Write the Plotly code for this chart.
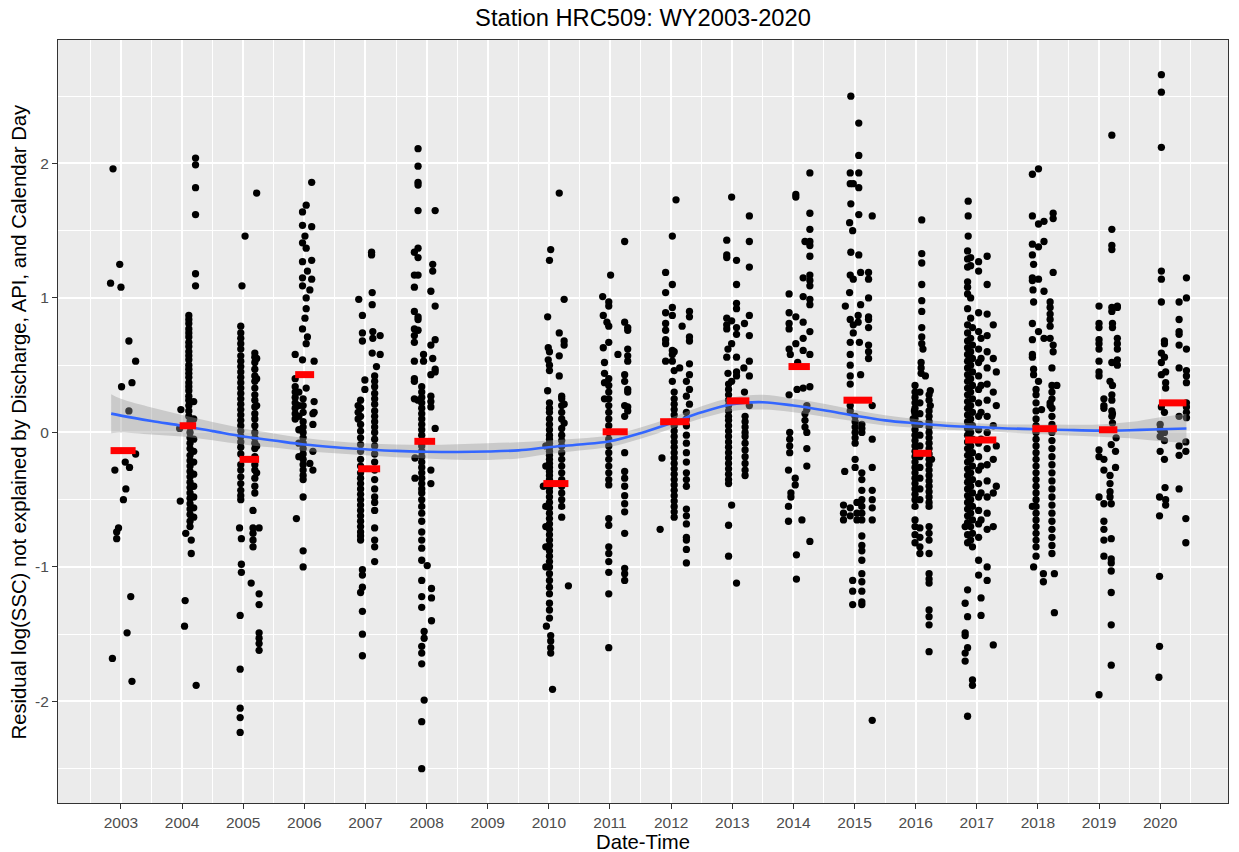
import plotly.graph_objects as go

# ---------------- data (decimal year, residual values) ----------------
wy2003 = [
    (2002.83, [1.11]), (2002.86, [-1.68]), (2002.87, [1.96]), (2002.90, [-0.28]),
    (2002.93, [-0.79, -0.74]), (2002.96, [-0.71]), (2002.98, [1.25]), (2003.00, [1.08]),
    (2003.01, [0.34]), (2003.04, [-0.50]), (2003.07, [-0.22]), (2003.08, [-0.42]),
    (2003.10, [-1.49]), (2003.13, [0.68, 0.16]), (2003.14, [-0.26]), (2003.16, [-1.22]),
    (2003.18, [0.37, -1.85]), (2003.24, [0.53, -0.16]),
]
wy2004 = [
    (2003.96, [0.03]), (2003.97, [-0.51]), (2003.98, [0.17]), (2004.04, [-1.44]),
    (2004.05, [-1.25]), (2004.06, [-0.75]),
    (2004.11, [0.87, 0.84, 0.81, 0.77, 0.74, 0.71, 0.67, 0.64, 0.60, 0.57, 0.54, 0.50, 0.47,
               0.44, 0.41, 0.37, 0.34, 0.31, 0.27, 0.24, 0.20, 0.16, 0.12]),
    (2004.13, [0.08, 0.04, 0.0, -0.04, -0.08, -0.12, -0.17, -0.21, -0.25, -0.29, -0.33, -0.37,
               -0.41, -0.45, -0.49, -0.53, -0.57, -0.61, -0.66, -0.70]),
    (2004.15, [-0.80, -0.90]),
    (2004.19, [0.23, 0.10, -0.05, -0.14, -0.22, -0.31, -0.40, -0.48, -0.56, -0.63]),
    (2004.22, [2.04, 1.99, 1.82, 1.62, 1.18, 1.09]), (2004.23, [-1.88]),
]
wy2005 = [
    (2004.94, [-0.71]),
    (2004.96, [0.79, 0.74, 0.70, 0.66, 0.62, 0.57, 0.53, 0.49, 0.45, 0.41, 0.37, 0.33, 0.29,
               0.25, 0.21, 0.17, 0.13, 0.09, 0.05, 0.01, -0.03, -0.07, -0.11, -0.16, -0.24,
               -0.28, -0.33, -0.38, -0.43, -0.47, -0.50]),
    (2004.97, [-0.79, -0.98, -1.04]), (2004.95, [-1.36, -1.76, -2.05, -2.12, -2.23]),
    (2004.98, [1.09]), (2005.03, [1.46]), (2005.13, [-1.12]),
    (2005.16, [-0.58, -0.71, -0.75, -0.80, -0.85]),
    (2005.19, [0.59, 0.56, 0.52, 0.47, 0.42, 0.38, 0.33, 0.28, 0.24, 0.19, 0.14, 0.10, 0.05,
               0.0, -0.04, -0.08, -0.12, -0.18, -0.24, -0.28, -0.34, -0.40, -0.45]),
    (2005.22, [1.78, 0.55, 0.40, 0.20, -0.10, -0.30]),
    (2005.26, [-0.71, -1.20, -1.28, -1.49, -1.53, -1.57, -1.62]),
]
wy2006 = [
    (2005.85, [0.58, 0.40, 0.34, 0.30, 0.26, 0.22, 0.18, 0.14, 0.10]), (2005.87, [-0.64]),
    (2005.91, [0.30, 0.20, 0.12, 0.02, -0.08, -0.18]),
    (2005.97, [1.64, 1.54, 1.41, 1.27, 1.15, 1.09, 0.77, 0.54]),
    (2005.98, [0.25, 0.20, 0.15, 0.08, 0.04, 0.0, -0.04, -0.08, -0.12, -0.16, -0.20, -0.24,
               -0.28, -0.32, -0.35, -0.48, -0.88, -1.00]),
    (2006.01, [1.46, 0.85]), (2006.03, [1.69, 1.37, 1.00, 0.92, 0.66, 0.33]),
    (2006.05, [1.20, 0.71]), (2006.09, [1.06, -0.23]), (2006.12, [1.86, 1.53, 1.28, 1.14]),
    (2006.14, [0.14, 0.06, -0.14, -0.28]), (2006.16, [0.53, 0.23, 0.15]),
]
wy2007 = [
    (2006.88, [0.20, 0.15, 0.10]), (2006.89, [0.99]),
    (2006.92, [0.24, 0.18, 0.12, 0.06, 0.01, -0.04, -0.09, -0.14, -0.20, -0.25, -0.30, -0.34,
               -0.38, -0.42, -0.46, -0.50, -0.54, -0.58, -0.62, -0.66, -0.70, -0.74, -0.77,
               -0.80, -1.19]),
    (2006.95, [0.87, 0.74, 0.68, -1.02, -1.06, -1.15, -1.33, -1.50, -1.66]),
    (2006.99, [0.39, 0.32]), (2007.10, [1.34, 1.32]), (2007.11, [1.04, 0.95, 0.59]),
    (2007.12, [0.75, 0.70]),
    (2007.15, [0.42, 0.38, 0.34, 0.29, 0.25, 0.21, 0.16, 0.12, 0.08, 0.04, 0.0, -0.05, -0.10,
               -0.16, -0.22, -0.28, -0.35, -0.42, -0.48, -0.52, -0.58, -0.71, -0.80, -0.85,
               -0.96]),
    (2007.18, [0.49]), (2007.24, [0.72, 0.58]),
]
wy2008 = [
    (2007.80, [1.34, 1.17, 1.08, 0.90, 0.77, 0.72, 0.67, 0.53, 0.40, 0.38, 0.25]),
    (2007.81, [-0.19, -0.34]),
    (2007.86, [2.11, 1.98, 1.86, 1.84, 1.65, 1.37, 1.30, 1.17, 0.86, 0.84, 0.76, 0.24]),
    (2007.92, [0.34, 0.30, 0.26, 0.22, 0.18, 0.14, 0.10, 0.06, 0.02, -0.02, -0.06, -0.10,
               -0.14, -0.18, -0.22, -0.26, -0.30, -0.34, -0.38, -0.42, -0.45, -0.50, -0.55,
               -0.60, -0.66, -0.74, -0.80, -0.86, -0.95, -1.10, -1.22, -1.30, -1.59, -1.64,
               -1.72, -2.15, -2.50]),
    (2007.95, [0.58, 0.53]), (2007.96, [-1.48, -1.53, -1.99]), (2008.01, [-0.99]),
    (2008.07, [1.05, 0.65, 0.43, 0.27, 0.23, 0.19, -0.28, -0.38]),
    (2008.08, [-1.16, -1.23, -1.40]), (2008.10, [1.25, 1.20, 0.55]),
    (2008.14, [1.65, 0.94, 0.69, 0.47, 0.45, 0.03]),
]
wy2010 = [
    (2009.91, [-0.40]), (2009.95, [-0.10, -0.25, -0.55, -0.70, -0.85, -1.00]),
    (2009.96, [-1.44]), (2009.98, [0.86, 0.31]), (2009.99, [0.63, 0.54]),
    (2010.01, [1.28, 0.60, 0.50, 0.46, 0.22, 0.18, 0.15, 0.10, 0.06, 0.02, -0.02, -0.05,
               -0.08, -0.11, -0.14, -0.17, -0.20, -0.23, -0.26, -0.29, -0.32, -0.35, -0.38,
               -0.41, -0.44, -0.48, -0.52, -0.56, -0.60, -0.64, -0.68, -0.72, -0.76, -0.80,
               -0.84, -0.88, -0.92, -0.96, -1.00, -1.05, -1.10, -1.15, -1.20, -1.27, -1.32,
               -1.38]),
    (2010.03, [1.36, -1.51, -1.55, -1.60, -1.64]), (2010.06, [-1.91]),
    (2010.17, [1.78, 0.74, 0.57, 0.42]),
    (2010.21, [0.27, 0.25, 0.20, 0.15, 0.10, 0.03, -0.02, -0.06, -0.10, -0.15, -0.20, -0.25,
               -0.30, -0.35, -0.40, -0.45, -0.50, -0.55, -0.63]),
    (2010.25, [0.99, 0.68, 0.65, 0.21, 0.07]), (2010.32, [-1.14]),
]
wy2011 = [
    (2010.88, [1.01]), (2010.89, [0.87, 0.63]), (2010.91, [0.52, 0.44, 0.37, 0.25]),
    (2010.95, [0.82]),
    (2010.98, [0.97, 0.94, 0.79, 0.67, 0.40, 0.35, 0.30, 0.25, 0.20, 0.15, 0.10, 0.05, 0.0,
               -0.05, -0.10, -0.15, -0.20, -0.25, -0.30, -0.35, -0.39, -0.64, -0.69, -0.85,
               -0.90, -0.96, -1.04, -1.20, -1.60]),
    (2011.01, [1.17]), (2011.13, [0.58]),
    (2011.24, [1.42, 0.82, 0.43, 0.38, 0.20, 0.12, -0.15, -0.29, -0.34, -0.40, -0.47, -0.53,
               -0.59, -0.75, -1.01, -1.05, -1.10]),
    (2011.29, [0.78, 0.76, 0.62, 0.57, 0.53, 0.32, 0.30, 0.19, 0.16]),
]
wy2012 = [
    (2011.82, [-0.72]), (2011.85, [-0.19]),
    (2011.91, [1.19, 1.04, 0.89, 0.81, 0.76, 0.69, 0.66, 0.53]),
    (2012.02, [1.46, 1.10, 0.93, 0.87, 0.61, 0.58, 0.53, 0.38]),
    (2012.05, [0.60, 0.46, 0.30, 0.25, 0.21, 0.17, 0.13, 0.09, 0.05, 0.01, -0.03, -0.07,
               -0.11, -0.15, -0.19, -0.23, -0.27, -0.31, -0.35, -0.39, -0.43, -0.47, -0.51,
               -0.55, -0.59, -0.63]),
    (2012.08, [1.73]), (2012.14, [0.48]), (2012.18, [0.79]),
    (2012.25, [0.38, 0.27, 0.15, 0.10, 0.05, -0.02, -0.08, -0.15, -0.22, -0.30, -0.35, -0.40,
               -0.57, -0.62, -0.68, -0.78, -0.80, -0.87, -0.97]),
    (2012.30, [0.90, 0.86, 0.71, 0.68, 0.51, 0.43, 0.32, 0.21]),
]
wy2013 = [
    (2012.91, [1.43, 1.32, 1.30, 0.85, 0.80, 0.77, 0.56]), (2012.93, [0.62, 0.44]),
    (2012.94, [0.36, 0.32, 0.28, 0.24, 0.20, 0.16, 0.12, 0.09, 0.05, 0.01, -0.03, -0.07,
               -0.11, -0.15, -0.19, -0.23, -0.27, -0.31, -0.35, -0.38, -0.69, -0.92]),
    (2012.99, [1.75, 0.83, 0.66, 0.38, -0.54]),
    (2013.07, [1.28, 1.10, 0.96, 0.92, 0.78, 0.73, 0.56, 0.45, 0.42, -1.12]),
    (2013.19, [0.48]), (2013.20, [0.81, 0.30]),
    (2013.21, [0.12, 0.08, 0.04, 0.0, -0.03, -0.08, -0.13, -0.18, -0.23, -0.28, -0.32]),
    (2013.28, [1.61, 1.42, 1.23, 0.87, 0.72, 0.53, 0.42, 0.20]),
]
wy2014 = [
    (2013.92, [-0.28, -0.55, -0.66]), (2013.93, [1.03, 0.89, 0.81, 0.77, 0.62, 0.28]),
    (2013.94, [0.0, -0.05, -0.10, -0.15]), (2013.95, [0.58]), (2013.96, [-0.45, -0.48]),
    (2014.03, [-0.34, -0.39]), (2014.04, [1.77, 1.75, 0.86, 0.66]), (2014.05, [-0.91, -1.09]),
    (2014.06, [0.32]), (2014.07, [0.52]), (2014.14, [-0.65]),
    (2014.16, [1.15, 1.01, 0.82, 0.70, 0.61, 0.33]), (2014.19, [1.42, 0.14, 0.09, 0.04]),
    (2014.22, [0.20, 0.17, 0.0, -0.12, -0.25]),
    (2014.27, [1.93, 1.63, 1.51, 1.42, 1.39, 1.31, 1.17, 1.13, 1.09, 0.99, 0.95, 0.75, 0.58,
               0.34, -0.81]),
]
wy2015 = [
    (2014.82, [-0.54, -0.60, -0.65]), (2014.84, [-0.29]), (2014.85, [0.94]),
    (2014.92, [1.56, 1.04]),
    (2014.93, [1.93, 1.85, 1.17, 0.84, 0.67, 0.58, 0.50, 0.42, 0.36, 0.20, 0.16, -0.56, -0.62]),
    (2014.94, [2.50, 1.70, 1.34]), (2014.97, [1.50, -1.10, -1.18, -1.28]),
    (2014.98, [1.85, 1.14, 0.80, 0.74]),
    (2015.01, [0.12, 0.08, 0.04, 0.0, -0.04, -0.08, -0.20, -0.26]),
    (2015.04, [-0.52, -0.60, -0.65]), (2015.06, [0.87, 0.82]),
    (2015.07, [2.30, 2.06, 1.93, 1.82, 1.62, 1.32]), (2015.08, [0.67]),
    (2015.10, [1.19, 0.95, 0.43]),
    (2015.12, [0.06, 0.03, 0.0, -0.30, -0.35, -0.43, -0.50, -0.55, -0.60, -0.65, -0.77, -0.84,
               -0.88, -0.95, -1.05, -1.11, -1.18, -1.26, -1.28]),
    (2015.23, [1.19, 1.14, 1.00, 0.86, 0.84, 0.78, 0.65, 0.60, 0.55]),
    (2015.29, [1.61, 0.20, -0.05, -0.26, -0.43, -0.50, -0.56, -0.65, -2.14]),
]
wy2016 = [
    (2015.96, [0.10]), (2015.98, [0.16]),
    (2015.99, [0.35, 0.30, 0.26, 0.22, 0.18, 0.14, 0.10, 0.06, 0.02, -0.02, -0.06, -0.10,
               -0.14, -0.18, -0.22, -0.26, -0.30, -0.34, -0.38, -0.42, -0.46, -0.50, -0.55,
               -0.65, -0.70, -0.76, -0.82]),
    (2016.07, [0.30, 0.22, 0.14, 0.06, -0.02, -0.10, -0.18, -0.26, -0.34, -0.42, -0.50, -0.71,
               -0.78, -0.85, -0.90]),
    (2016.09, [0.52, 0.48, 0.44]),
    (2016.10, [1.58, 1.33, 1.26, 1.10, 0.98, 0.90, 0.78, 0.71, 0.66]),
    (2016.12, [0.62]), (2016.16, [0.42]),
    (2016.22, [0.28, 0.24, 0.16, 0.12, 0.08, 0.04, 0.0, -0.04, -0.08, -0.12, -0.16, -0.20,
               -0.24, -0.28, -0.32, -0.36, -0.40, -0.44, -0.48, -0.52, -0.55, -0.70, -0.75,
               -0.80, -0.90, -1.05, -1.09, -1.12, -1.32, -1.37, -1.43, -1.63]),
    (2016.24, [0.31, 0.20]), (2016.26, [-0.20]),
]
wy2017 = [
    (2016.81, [-0.70, -1.27, -1.49, -1.51, -1.64, -1.70]),
    (2016.85, [1.35, 1.29, 1.23, 1.12, 1.08, 1.03, 0.92, 0.80, 0.74, 0.68, 0.63, 0.58, 0.53,
               0.48, 0.43, 0.38, 0.33, 0.28, 0.23, 0.18, 0.13, 0.08, 0.03, -0.02, -0.07, -0.12,
               -0.17, -0.22, -0.27, -0.32, -0.37, -0.42, -0.47, -0.52, -0.57, -0.62, -0.67,
               -0.76, -0.82, -1.17, -1.37, -1.60, -2.11]),
    (2016.86, [1.72, 1.61, 1.46]),
    (2016.90, [1.30, 1.24, 1.00, 0.85, 0.70, 0.60, 0.50, 0.40, 0.30, 0.20, 0.10, 0.0, -0.10,
               -0.20, -0.30, -0.40, -0.50, -0.60, -0.70, -0.80]),
    (2016.93, [0.78, 0.65, 0.55, 0.45, 0.35, 0.25, 0.15, 0.05, -0.05, -0.15, -0.25, -0.35,
               -0.45, -0.55, -0.65, -0.75, -0.85, -1.84, -1.88]),
    (2017.03, [1.27, 1.20, 0.89, 0.75, 0.62, 0.52, 0.42, 0.32, 0.22, 0.12, 0.02, -0.08, -0.18,
               -0.28, -0.38, -0.48, -0.58, -0.68, -0.78, -0.95, -1.06]),
    (2017.07, [0.70, 0.55, 0.35, 0.15, -0.05, -0.25, -0.45, -0.65, -1.23, -1.36]),
    (2017.17, [1.31, 1.10, 0.88, 0.72, 0.60, 0.48, 0.36, 0.24, 0.12, 0.0, -0.12, -0.24, -0.36,
               -0.48, -0.60, -0.72, -1.00, -1.10]),
    (2017.27, [0.80, 0.55, 0.30, 0.05, -0.20, -0.45, -0.70, -1.58]),
    (2017.32, [0.45, 0.20, -0.10, -0.40]),
]
wy2018 = [
    (2017.91, [1.92, 1.61, 1.40, 1.32, 1.15, 1.13, 0.81, 0.69, 0.58, 0.56, -0.55]),
    (2017.92, [1.06]), (2017.93, [1.25, 0.97, 0.47, 0.43, -1.00]),
    (2017.97, [0.32, 0.28, 0.22, 0.16, 0.10, 0.05, 0.0, -0.05, -0.10, -0.15, -0.20, -0.25,
               -0.30, -0.35, -0.40, -0.45, -0.50, -0.55, -0.60, -0.65, -0.70, -0.75, -0.80,
               -0.85, -0.92]),
    (2018.01, [1.96, 1.55, 1.38, 1.14, 0.75, 0.38]), (2018.06, [0.17]),
    (2018.09, [-1.05, -1.11]), (2018.10, [1.57, 1.42, 1.05, 0.70]),
    (2018.20, [0.97, 0.93, 0.88, 0.84, 0.79, 0.70, 0.22, 0.20]),
    (2018.23, [0.48, 0.35, 0.30, 0.25, 0.18, 0.12, 0.06, 0.0, -0.06, -0.12, -0.18, -0.24,
               -0.30, -0.36, -0.42, -0.48, -0.54, -0.60, -0.66, -0.72, -0.78, -0.84, -0.90]),
    (2018.25, [1.63, 1.59, 1.19, 0.65, 0.60]), (2018.27, [-1.05, -1.34]), (2018.31, [0.35]),
]
wy2019 = [
    (2019.00, [0.94, 0.81, 0.78, 0.69, 0.66, 0.62, 0.53, 0.45, 0.42, -0.13, -0.18, -0.48, -1.95]),
    (2019.08, [0.25, 0.20, 0.18, -0.20, -0.28, -0.53, -0.66, -0.72, -0.80, -0.92]),
    (2019.18, [0.38, -0.32, -0.38, -0.44, -0.48]),
    (2019.20, [-0.09, -0.53, -0.79, -0.94, -0.97, -1.03, -1.19, -1.43, -1.73]),
    (2019.21, [2.21, 1.51, 1.39, 1.36, 0.93, 0.90, 0.52, 0.28, 0.24, 0.16, 0.12]),
    (2019.22, [0.81, 0.78, 0.35, 0.14, 0.07]), (2019.27, [-0.14, -0.26]), (2019.28, [-0.04]),
    (2019.30, [0.94, 0.93, 0.70, 0.66, 0.62, 0.54, 0.50]),
]
wy2020 = [
    (2019.98, [-1.82]), (2019.99, [-0.48, -0.62, -1.07, -1.59]),
    (2020.00, [0.06, 0.02, -0.03, -0.14]),
    (2020.02, [2.66, 2.53, 2.12, 1.20, 1.14, 0.97, 0.59, 0.52, 0.43, 0.19]),
    (2020.07, [0.68, 0.66, 0.56, 0.15, 0.0, -0.06, -0.20]), (2020.08, [-0.41]),
    (2020.09, [0.45, 0.37, 0.33, -0.50, -0.54]),
    (2020.31, [0.97, 0.84, 0.75, 0.73, 0.65, 0.48, 0.12, -0.10, -0.17, -0.42]),
    (2020.42, [-0.07, -0.14, -0.64, -0.82]),
    (2020.43, [1.15, 1.00, 0.62, 0.46, 0.42, 0.37, 0.22, 0.19, 0.15, 0.11]),
]

water_years = [wy2003, wy2004, wy2005, wy2006, wy2007, wy2008, wy2010, wy2011, wy2012,
               wy2013, wy2014, wy2015, wy2016, wy2017, wy2018, wy2019, wy2020]
wy_medians = [-0.135, 0.05, -0.20, 0.43, -0.27, -0.066, -0.38, 0.005, 0.08,
              0.235, 0.49, 0.24, -0.155, -0.056, 0.028, 0.02, 0.22]

# LOESS fit
smooth_t = [2002.84, 2003.0, 2003.5, 2004.0, 2004.5, 2005.0, 2005.5, 2006.0, 2006.5, 2007.0,
            2007.5, 2008.0, 2008.5, 2009.0, 2009.5, 2010.0, 2010.5, 2011.0, 2011.5, 2012.0,
            2012.5, 2013.0, 2013.5, 2014.0, 2014.5, 2015.0, 2015.5, 2016.0, 2016.5, 2017.0,
            2017.5, 2018.0, 2018.5, 2019.0, 2019.5, 2020.0, 2020.43]
smooth_v = [0.14, 0.125, 0.085, 0.05, 0.01, -0.03, -0.06, -0.09, -0.11, -0.125,
            -0.137, -0.143, -0.145, -0.142, -0.133, -0.11, -0.09, -0.065, -0.005, 0.07,
            0.15, 0.21, 0.225, 0.20, 0.165, 0.125, 0.09, 0.068, 0.05, 0.04,
            0.03, 0.024, 0.018, 0.014, 0.017, 0.024, 0.03]
smooth_ci = [0.145, 0.125, 0.10, 0.08, 0.068, 0.06, 0.052, 0.048, 0.045, 0.045,
             0.048, 0.05, 0.058, 0.062, 0.06, 0.05, 0.045, 0.042, 0.042, 0.042,
             0.045, 0.05, 0.055, 0.05, 0.048, 0.042, 0.038, 0.033, 0.03, 0.028,
             0.03, 0.035, 0.04, 0.045, 0.06, 0.09, 0.11]

year_ticks = list(range(2003, 2021))
year_labels = [str(y) for y in year_ticks]

# ---------------- build figure ----------------
pt_x, pt_y = [], []
bar_x, bar_y = [], []
for wy, med in zip(water_years, wy_medians):
    ts = []
    for t, vals in wy:
        for v in vals:
            pt_x.append(t)
            pt_y.append(v)
        ts.append(t)
    bar_x += [min(ts), max(ts), None]
    bar_y += [med, med, None]

fig = go.Figure()
fig.add_trace(go.Scatter(x=pt_x, y=pt_y, mode="markers",
                         marker=dict(color="black", size=7.3, line=dict(width=0)),
                         hoverinfo="skip"))
lo = [v - c for v, c in zip(smooth_v, smooth_ci)]
hi = [v + c for v, c in zip(smooth_v, smooth_ci)]
fig.add_trace(go.Scatter(x=smooth_t, y=lo, mode="lines", line=dict(width=0, shape="spline"),
                         hoverinfo="skip"))
fig.add_trace(go.Scatter(x=smooth_t, y=hi, mode="lines", line=dict(width=0, shape="spline"),
                         fill="tonexty", fillcolor="rgba(153,153,153,0.4)", hoverinfo="skip"))
fig.add_trace(go.Scatter(x=smooth_t, y=smooth_v, mode="lines",
                         line=dict(color="#3366FF", width=2.6, shape="spline"),
                         hoverinfo="skip"))
fig.add_trace(go.Scatter(x=bar_x, y=bar_y, mode="lines",
                         line=dict(color="#FF0000", width=7), hoverinfo="skip"))

fontfam = "Liberation Sans, Arial, sans-serif"
axis_common = dict(showgrid=True, gridcolor="white", gridwidth=2, zeroline=False,
                   showline=True, linecolor="#333333", linewidth=1, mirror=True,
                   ticks="outside", ticklen=5, tickcolor="#333333", tickwidth=1,
                   tickfont=dict(size=15.5, color="#4D4D4D", family=fontfam))

fig.update_layout(
    width=1239, height=852,
    margin=dict(l=58, r=11, t=40, b=49),
    plot_bgcolor="#EBEBEB", paper_bgcolor="white",
    showlegend=False,
    font=dict(family=fontfam),
    title=dict(text="Station HRC509: WY2003-2020", x=0.5, xref="paper", xanchor="center",
               y=1 - 17.5 / 852, yref="container", yanchor="middle",
               font=dict(size=23.7, color="black", family=fontfam)),
    xaxis=dict(range=[2001.97, 2021.11], tickvals=year_ticks, ticktext=year_labels,
               minor=dict(tickvals=[y + 0.5 for y in range(2002, 2021)], showgrid=True,
                          gridcolor="white", gridwidth=1, ticks=""),
               **axis_common),
    yaxis=dict(range=[-2.755, 2.918], tickvals=[-2, -1, 0, 1, 2],
               ticktext=["-2", "-1", "0", "1", "2"],
               minor=dict(tickvals=[-2.5, -1.5, -0.5, 0.5, 1.5, 2.5], showgrid=True,
                          gridcolor="white", gridwidth=1, ticks=""),
               **axis_common),
    annotations=[
        dict(text="Date-Time", xref="paper", yref="paper", x=0.5, y=0, yshift=-39,
             xanchor="center", yanchor="middle", showarrow=False,
             font=dict(size=20.3, color="black", family=fontfam)),
        dict(text="Residual log(SSC) not explained by Discharge, API, and Calendar Day",
             xref="paper", yref="paper", x=0, y=0.5, xshift=-40, textangle=-90,
             xanchor="center", yanchor="middle", showarrow=False,
             font=dict(size=20.3, color="black", family=fontfam)),
    ],
)

fig.write_html("out.html")
